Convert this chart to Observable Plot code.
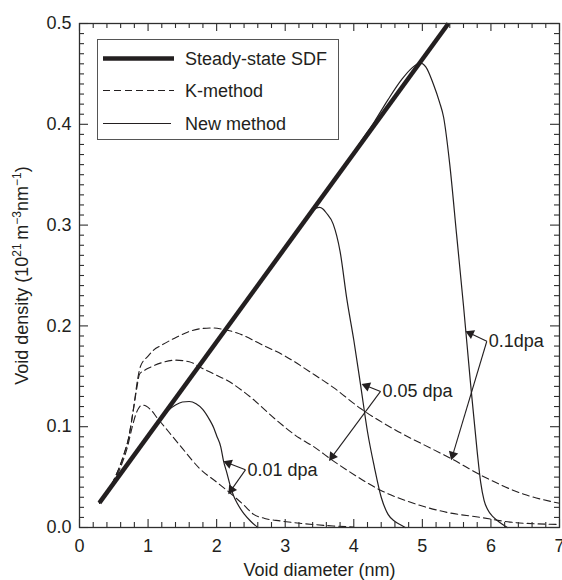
<!DOCTYPE html>
<html><head><meta charset="utf-8">
<script src="https://cdn.jsdelivr.net/npm/d3@7"></script>
<script src="https://cdn.jsdelivr.net/npm/@observablehq/plot@0.6"></script>
<style>
body{margin:0;background:#fff;}
#wrap{position:relative;width:562px;height:580px;font-family:"Liberation Sans",Arial,Helvetica,sans-serif;color:#231f20;}
#legend{position:absolute;left:97px;top:39px;width:242px;height:101px;border:1.3px solid #555;box-sizing:border-box;background:#fff;}
</style></head><body><div id="wrap"></div>
<script>
// ---- data ----
const xTicks = [0, 1, 2, 3, 4, 5, 6, 7];
const yTicks = [0, 0.1, 0.2, 0.3, 0.4, 0.5];

const ssX = [0.29, 5.38];
const ssY = [0.0245, 0.5];

const newX001 = [0.29, 0.6, 0.9, 1.1, 1.2, 1.3, 1.4, 1.5, 1.6, 1.7, 1.8, 1.9, 1.96, 2.0, 2.06, 2.1, 2.15, 2.2, 2.25, 2.3, 2.4, 2.5, 2.6];
const newY001 = [0.0245, 0.0535, 0.0815, 0.1002, 0.109, 0.1165, 0.1215, 0.1245, 0.125, 0.1228, 0.117, 0.1065, 0.0985, 0.091, 0.08, 0.066, 0.054, 0.041, 0.031, 0.024, 0.0135, 0.006, 0.0];

const newX005 = [0.29, 1.0, 2.0, 3.0, 3.3, 3.4, 3.45, 3.5, 3.55, 3.6, 3.7, 3.8, 3.9, 4.0, 4.1, 4.2, 4.3, 4.4, 4.5, 4.6, 4.7, 4.75];
const newY005 = [0.0245, 0.0908, 0.1842, 0.2776, 0.3056, 0.314, 0.3168, 0.3175, 0.316, 0.312, 0.301, 0.274, 0.226, 0.186, 0.141, 0.095, 0.06, 0.03, 0.013, 0.006, 0.002, 0.0];

const newX01 = [0.29, 1.0, 2.0, 3.0, 3.9, 4.1, 4.3, 4.5, 4.7, 4.85, 4.97, 5.05, 5.16, 5.25, 5.31, 5.4, 5.5, 5.6, 5.7, 5.8, 5.85, 5.9, 5.95, 6.04, 6.15, 6.24];
const newY01 = [0.0245, 0.0908, 0.1842, 0.2776, 0.3616, 0.3825, 0.4025, 0.4245, 0.4445, 0.456, 0.4606, 0.457, 0.44, 0.422, 0.407, 0.36, 0.29, 0.22, 0.145, 0.075, 0.045, 0.027, 0.018, 0.01, 0.004, 0.0];

const kX001 = [0.29, 0.45, 0.6, 0.7, 0.77, 0.82, 0.86, 0.91, 0.97, 1.05, 1.13, 1.3, 1.47, 1.76, 2.0, 2.2, 2.4, 2.54, 2.7, 2.93, 3.125, 3.4, 3.7, 4.0];
const kY001 = [0.0245, 0.04, 0.06, 0.08, 0.1, 0.112, 0.118, 0.1215, 0.1205, 0.116, 0.109, 0.095, 0.081, 0.058, 0.045, 0.034, 0.022, 0.013, 0.009, 0.0065, 0.0048, 0.003, 0.0015, 0.0005];

const kX005 = [0.29, 0.5, 0.65, 0.72, 0.79, 0.84, 0.875, 0.95, 1.035, 1.2, 1.4, 1.6, 1.76, 2.0, 2.15, 2.5, 2.88, 3.2, 3.42, 3.66, 3.9, 4.39, 4.87, 5.36, 5.85, 6.33, 7.0];
const kY005 = [0.0245, 0.047, 0.073, 0.09, 0.119, 0.14, 0.152, 0.156, 0.159, 0.1635, 0.166, 0.1645, 0.159, 0.151, 0.146, 0.129, 0.106, 0.089, 0.08, 0.068, 0.057, 0.037, 0.024, 0.015, 0.01, 0.005, 0.003];

const kX01 = [0.29, 0.5, 0.65, 0.72, 0.79, 0.85, 0.89, 1.0, 1.08, 1.2, 1.42, 1.6, 1.8, 1.95, 2.1, 2.3, 2.64, 3.0, 3.37, 3.7, 4.1, 4.6, 5.17, 5.43, 5.85, 6.48, 7.0];
const kY01 = [0.0245, 0.047, 0.073, 0.09, 0.119, 0.148, 0.16, 0.17, 0.176, 0.181, 0.189, 0.1945, 0.1975, 0.198, 0.1965, 0.193, 0.182, 0.17, 0.154, 0.139, 0.118, 0.097, 0.077, 0.068, 0.052, 0.033, 0.024];

// annotations: label, bracket vertex, tip on new-method curve, tip on K-method curve
const annLabels = ["0.01 dpa", "0.05 dpa", "0.1dpa"];
const annVX = [2.42, 4.39, 5.94];
const annVY = [0.0572, 0.135, 0.1848];
const annSX = [2.13, 4.146, 5.66];
const annSY = [0.0648, 0.1416, 0.1938];
const annKX = [2.19, 3.66, 5.43];
const annKY = [0.035, 0.068, 0.069];

const legendLabels = ["Steady-state SDF", "K-method", "New method"];
const xLabel = "Void diameter (nm)";
const yLabel = "Void density (1021 m-3nm-1)";

// ---- layout ----
const W = 562, H = 580, mL = 79, mR = 3, mT = 23, mB = 53;
const xDom = [0, 7], yDom = [0, 0.5];
const pxX = (xDom[1] - xDom[0]) / (W - mL - mR);   // data units per pixel
const pxY = (yDom[1] - yDom[0]) / (H - mT - mB);

// ---- build tables ----
const ink = "#231f20";
const series = [
  {id: "ss", method: "steady", xs: ssX, ys: ssY},
  {id: "n001", method: "new", xs: newX001, ys: newY001},
  {id: "n005", method: "new", xs: newX005, ys: newY005},
  {id: "n01", method: "new", xs: newX01, ys: newY01},
  {id: "k001", method: "K", xs: kX001, ys: kY001},
  {id: "k005", method: "K", xs: kX005, ys: kY005},
  {id: "k01", method: "K", xs: kX01, ys: kY01}
];
const rows = series.flatMap(s => s.xs.map((x, i) => ({series: s.id, method: s.method, x, y: s.ys[i]})));

// arrows: shaft from the bracket vertex to a filled head at each tip
const heads = [];
annLabels.forEach((label, i) => {
  for (const [tx, ty] of [[annSX[i], annSY[i]], [annKX[i], annKY[i]]]) {
    const dxp = (tx - annVX[i]) / pxX, dyp = (ty - annVY[i]) / pxY;
    const L = Math.hypot(dxp, dyp), ux = dxp / L, uy = dyp / L;
    const back = 3.2;
    heads.push({
      vx: annVX[i], vy: annVY[i],
      hx: tx - ux * back * pxX, hy: ty - uy * back * pxY,
      angle: Math.atan2(ux, uy) * 180 / Math.PI
    });
  }
});
const ann = annLabels.map((label, i) => ({label, vx: annVX[i], vy: annVY[i]}));

const xMinor = d3.range(0, 7.001, 0.2).map(v => +v.toFixed(2)).filter(v => Math.abs(v - Math.round(v)) > 1e-6);
const yMinor = d3.range(0, 0.5001, 0.01).map(v => +v.toFixed(3)).filter(v => Math.abs(v * 10 - Math.round(v * 10)) > 1e-6);

const axisStroke = "#2e2e2e";
const major = 8, minor = 5;
const tk = {stroke: axisStroke, strokeWidth: 1.1};
const tickMarks = [
  Plot.ruleX(xTicks, {x: d => d, y1: yDom[0], y2: yDom[0] + major * pxY, ...tk}),
  Plot.ruleX(xMinor, {x: d => d, y1: yDom[0], y2: yDom[0] + minor * pxY, ...tk}),
  Plot.ruleX(xTicks, {x: d => d, y1: yDom[1] - major * pxY, y2: yDom[1], ...tk}),
  Plot.ruleX(xMinor, {x: d => d, y1: yDom[1] - minor * pxY, y2: yDom[1], ...tk}),
  Plot.ruleY(yTicks, {y: d => d, x1: xDom[0], x2: xDom[0] + 9 * pxX, ...tk}),
  Plot.ruleY(yMinor, {y: d => d, x1: xDom[0], x2: xDom[0] + minor * pxX, ...tk}),
  Plot.ruleY(yTicks, {y: d => d, x1: xDom[1] - 9 * pxX, x2: xDom[1], ...tk}),
  Plot.ruleY(yMinor, {y: d => d, x1: xDom[1] - minor * pxX, x2: xDom[1], ...tk})
];

const chart = Plot.plot({
  width: W, height: H,
  marginLeft: mL, marginRight: mR, marginTop: mT, marginBottom: mB,
  x: {domain: xDom, label: null},
  y: {domain: yDom, label: null},
  style: {fontFamily: '"Liberation Sans", Arial, Helvetica, sans-serif', fontSize: "18px", color: ink, background: "#fff", overflow: "visible"},
  marks: [
    Plot.line(rows.filter(d => d.method === "K"), {x: "x", y: "y", z: "series", stroke: ink, strokeWidth: 1.1, strokeDasharray: "7,4", curve: "monotone-x"}),
    Plot.line(rows.filter(d => d.method === "new"), {x: "x", y: "y", z: "series", stroke: ink, strokeWidth: 1.2, curve: "monotone-x"}),
    Plot.line(rows.filter(d => d.method === "steady"), {x: "x", y: "y", stroke: ink, strokeWidth: 4.5, strokeLinecap: "butt"}),
    ...tickMarks,
    Plot.frame({stroke: axisStroke, strokeWidth: 1.3}),
    Plot.axisX({ticks: xTicks, tickSize: 0, tickPadding: 12, tickFormat: d => String(d), fontSize: 18}),
    Plot.axisY({ticks: yTicks, tickSize: 0, tickPadding: 8, tickFormat: d3.format(".1f"), fontSize: 18}),
    Plot.link(heads, {x1: "vx", y1: "vy", x2: "hx", y2: "hy", stroke: ink, strokeWidth: 1.1}),
    Plot.dot(heads, {x: "hx", y: "hy", symbol: "triangle", rotate: "angle", r: 3.6, fill: ink, stroke: "none"}),
    Plot.text(ann, {x: "vx", y: "vy", text: "label", textAnchor: "start", dx: 2, fontSize: 18, fill: ink}),
    Plot.text([xLabel], {frameAnchor: "bottom", dy: 43, textAnchor: "middle", lineAnchor: "middle", fontSize: 18, fill: ink}),
    Plot.text([yLabel], {frameAnchor: "left", dx: -57, rotate: -90, textAnchor: "middle", lineAnchor: "middle", fontSize: 18, fill: ink, className: "ylab"})
  ]
});
document.getElementById("wrap").appendChild(chart);

// superscripts in the y-axis label
const ns = "http://www.w3.org/2000/svg";
const lbl = chart.querySelector(".ylab text");
if (lbl) {
  lbl.textContent = "";
  const parts = [["Void density (10", 0], ["21", 1], ["\u2009m", 0], ["\u22123", 1], ["nm", 0], ["\u22121", 1], [")", 0]];
  let prevSup = 0;
  for (const [t, s] of parts) {
    const ts = document.createElementNS(ns, "tspan");
    ts.textContent = t;
    if (s && !prevSup) ts.setAttribute("dy", "-7");
    if (!s && prevSup) ts.setAttribute("dy", "7");
    if (s) ts.setAttribute("font-size", "12");
    lbl.appendChild(ts);
    prevSup = s;
  }
}

// legend box
const leg = document.createElement("div");
leg.id = "legend";
const styles = [
  {w: 4.5, dash: null, x2: 76},
  {w: 1.1, dash: "7,4", x2: 76},
  {w: 1.2, dash: null, x2: 73}
];
const ys = [18.5, 50.5, 83.5];
let svgL = `<svg width="240" height="99" xmlns="${ns}" style="position:absolute;left:0;top:0">`;
legendLabels.forEach((l, i) => {
  const st = styles[i];
  svgL += `<line x1="5" x2="${st.x2}" y1="${ys[i]}" y2="${ys[i]}" stroke="${ink}" stroke-width="${st.w}" ${st.dash ? `stroke-dasharray="${st.dash}"` : ""}/>`;
  svgL += `<text x="87" y="${ys[i]}" dy="0.35em" font-size="18" fill="${ink}" font-family='"Liberation Sans", Arial, sans-serif'>${l}</text>`;
});
svgL += `</svg>`;
leg.innerHTML = svgL;
document.getElementById("wrap").appendChild(leg);
</script>
</body></html>
